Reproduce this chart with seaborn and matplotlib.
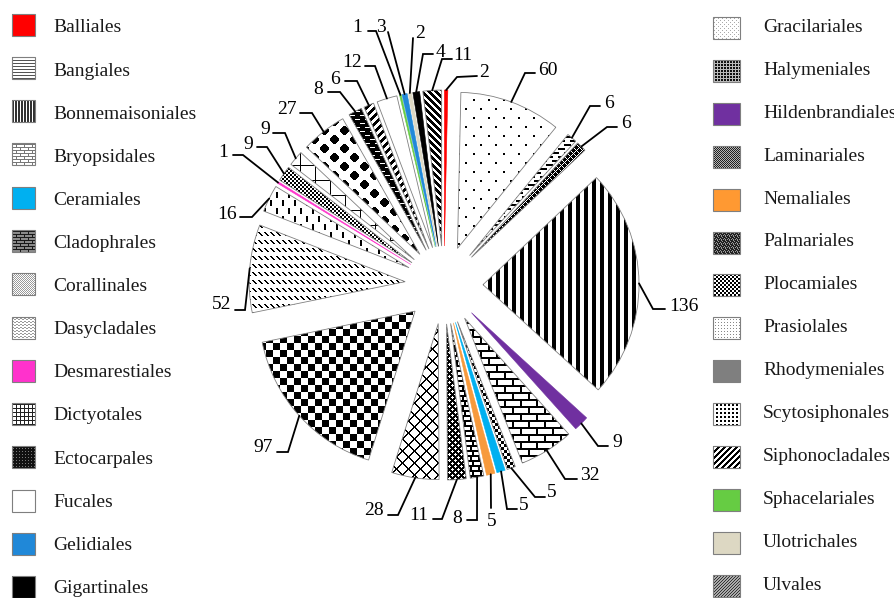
import numpy as np
import matplotlib
matplotlib.use("Agg")
import matplotlib.pyplot as plt
import seaborn as sns
from matplotlib.colors import to_rgb
from matplotlib.patches import Rectangle

sns.set_theme(style="white")
plt.rcParams["font.family"] = ["Liberation Serif", "DejaVu Serif"]

W, H = 895, 598

# ---------------- data ----------------
orders = ["Balliales", "Bangiales", "Bonnemaisoniales", "Bryopsidales", "Ceramiales",
          "Cladophrales", "Corallinales", "Dasycladales", "Desmarestiales", "Dictyotales",
          "Ectocarpales", "Fucales", "Gelidiales", "Gigartinales", "Gracilariales",
          "Halymeniales", "Hildenbrandiales", "Laminariales", "Nemaliales", "Palmariales",
          "Plocamiales", "Prasiolales", "Rhodymeniales", "Scytosiphonales", "Siphonocladales",
          "Sphacelariales", "Ulotrichales", "Ulvales"]
counts = [2, 60, 6, 6, 136, 9, 32, 5, 5, 5, 8, 11, 28, 97, 52, 16, 1, 9, 9, 27,
          8, 6, 12, 1, 3, 2, 4, 11]

# ---------------- label layout (pixels, origin top-left) ----------------
label_text_xy = [(484, 70), (548, 68), (609, 101), (626, 121), (684, 304), (617, 440),
                 (590, 473), (552, 490), (524, 503), (492, 519), (457, 516), (419, 513),
                 (374, 508), (263, 445), (222, 302), (227, 212), (223, 150), (248, 142),
                 (265, 127), (287, 107), (318, 87), (335, 77), (352, 60), (357, 25),
                 (381, 25), (420, 31), (441, 50), (463, 53)]
leader_elbow = [(457, 77), (525, 73), (590, 106), (607, 127), (653, 309), (598, 446),
                (565, 479), (535, 497), (507, 509), (491, 508), (477, 520), (442, 519),
                (398, 515), (288, 452), (245, 310), (252, 217), (243, 155), (267, 147),
                (285, 133), (312, 113), (340, 92), (357, 81), (375, 66), (376, 31),
                (388, 32), (413, 38), (423, 54), (442, 59)]
leader_end = [(477, 76), (535, 73), (600, 106), (617, 127), (665, 309), (608, 446),
              (577, 479), (545, 497), (517, 509), (491, 508), (467, 520), (433, 519),
              (388, 515), (277, 452), (235, 310), (240, 217), (233, 155), (257, 147),
              (273, 133), (300, 113), (328, 92), (345, 81), (365, 66), (368, 31),
              (388, 32), (413, 38), (433, 54), (452, 59)]


# ---------------- fill patterns ----------------
def tile(rows):
    return np.array([[1.0 if ch == "#" else 0.0 for ch in r] for r in rows])


def grid_tile(h, w, fn):
    i, j = np.mgrid[0:h, 0:w]
    return fn(i, j).astype(float)


def blob(i, j, ci, cj):
    di, dj = np.abs(i - ci), np.abs(j - cj)
    return ((di + dj) <= 5) & (di <= 4) & (dj <= 4)


DOTS_S = grid_tile(18, 15, lambda i, j: ((i < 2) & (j < 2)) |
                   ((i >= 9) & (i < 11) & (j >= 8) & (j < 10)))
HDASH = tile(["#######.....", "#######.....", "............", "............",
              "#.....######", "#.....######", "............", "............"])
LATTICE6 = grid_tile(6, 6, lambda i, j: ((i + j) % 6 == 0) | ((i - j) % 6 == 0))
VSTRIPE = tile(["####...."])
BRICK = grid_tile(14, 16, lambda i, j: (i % 7 < 2) | ((i < 7) & (j % 16 < 2)) |
                  ((i >= 7) & ((j - 8) % 16 < 2)))
SMALLCHECK = grid_tile(6, 6, lambda i, j: (i // 3 + j // 3) % 2 == 0)
INVBRICK = tile(["################", "################", "##......##......",
                 "##......##......", "##......##......", "################",
                 "################", "......##......##", "......##......##",
                 "......##......##"])
SPECKLE = tile(["##.###", "#...##", "##.###", "#####.", ".###..", "#####."])
LATTICE12 = grid_tile(12, 12, lambda i, j: ((i + j) % 12 < 2) | ((i - j) % 12 < 2))
CHECK7 = grid_tile(14, 14, lambda i, j: (i // 7 + j // 7) % 2 == 0)
DIAGDASH = tile(["##....", ".##...", "..##..", "...##.", "......", "......", "......",
                 "......"])
VDASH = grid_tile(16, 12, lambda i, j: ((j < 2) & (i < 6)) | ((j >= 6) & (j < 8) & (i >= 8) & (i < 14)))
FINECHECK = grid_tile(4, 4, lambda i, j: (i // 2 + j // 2) % 2 == 0)
GRID15 = grid_tile(15, 15, lambda i, j: (i == 0) | (j == 0))
POLKA = grid_tile(18, 20, lambda i, j: blob(i, j, 4, 4) | blob(i, j, 13, 14))
WDASH = tile(["##########", "##########", "##########", ".....#####",
              "##########", "##########", "##########", "#####....."])
DIAGW = grid_tile(8, 8, lambda i, j: (i + j) % 8 < 4)
DIAG11 = grid_tile(7, 7, lambda i, j: (j - i) % 7 < 4)

# style for each wedge: ("solid", colour) or (tile, ink colour, background)
wedge_styles = [
    ("solid", "#FF0000"), (DOTS_S, "black", "white"), (HDASH, "black", "white"),
    (LATTICE6, "white", "black"), (VSTRIPE, "black", "white"), ("solid", "#7030A0"),
    (BRICK, "black", "white"), (SMALLCHECK, "black", "white"), ("solid", "#00B0F0"),
    ("solid", "#F79A3C"), (INVBRICK, "black", "white"), (SPECKLE, "black", "white"),
    (LATTICE12, "black", "white"), (CHECK7, "black", "white"), (DIAGDASH, "black", "white"),
    (VDASH, "black", "white"), ("solid", "#FF33CC"), (FINECHECK, "black", "white"),
    (GRID15, "black", "white"), (POLKA, "black", "white"), (WDASH, "black", "white"),
    (DIAGW, "black", "white"), ("solid", "#FFFFFF"), ("solid", "#66CC44"),
    ("solid", "#2188D8"), ("solid", "#DDD8C3"), ("solid", "#000000"),
    (DIAG11, "black", "white"),
]

BRICK_S = tile(["########", "#.......", "#.......", "########", "....#...", "....#..."])

# legend swatch styles (same order as `orders`)
legend_styles = [
    ("solid", "#FF0000"),
    (tile(["#", ".", "."]), "#555555", "white"),
    (tile(["##."]), "#333333", "white"),
    (BRICK_S, "#777777", "white"),
    ("solid", "#00B0F0"),
    (BRICK_S, "#1a1a1a", "#8a8a8a"),
    (tile(["#.", ".#"]), "#9a9a9a", "white"),
    (tile(["##..", "..##", "...."]), "#9a9a9a", "white"),
    ("solid", "#FF33CC"),
    (tile(["####", "#...", "#...", "#..."]), "#222222", "white"),
    (tile(["###", "#.#", "###"]), "#111111", "#777777"),
    ("solid", "#FFFFFF"),
    ("solid", "#2188D8"),
    ("solid", "#000000"),
    (tile(["#...", "....", "..#.", "...."]), "#aaaaaa", "white"),
    (tile(["...", ".##", ".##"]), "#111111", "#bbbbbb"),
    ("solid", "#7030A0"),
    (tile(["#.", ".#"]), "#222222", "#b5b5b5"),
    ("solid", "#FF9933"),
    (tile(["#.##", "##.#", ".###", "#.#."]), "#222222", "#9a9a9a"),
    (tile(["##..", "##..", "..##", "..##"]), "black", "white"),
    (tile(["...", ".#.", "..."]), "#888888", "white"),
    ("solid", "#7F7F7F"),
    (tile(["##..", "##..", "....", "...."]), "black", "white"),
    (grid_tile(6, 6, lambda i, j: (i + j) % 6 < 3), "black", "white"),
    ("solid", "#66CC44"),
    ("solid", "#DDD8C3"),
    (grid_tile(3, 3, lambda i, j: (i + j) % 3 == 0), "#333333", "#aaaaaa"),
]


def is_solid(st):
    return isinstance(st[0], str)


def pattern_block(t, fg, bg, x0, x1, y0, y1):
    rows = np.arange(y0, y1)
    cols = np.arange(x0, x1)
    ink = t[rows[:, None] % t.shape[0], cols[None, :] % t.shape[1]]
    fgc = np.array(to_rgb(fg))
    bgc = np.array(to_rgb(bg))
    return bgc + (fgc - bgc) * ink[..., None]


# ---------------- figure ----------------
fig = plt.figure(figsize=(W / 100, H / 100), dpi=100)
ax = fig.add_axes([0, 0, 1, 1])

center = (444, H - 285)
radius = 156
explode = [39] * len(counts)
face = [st[1] if is_solid(st) else "white" for st in wedge_styles]

wedges, _ = ax.pie(counts, colors=face, startangle=90, counterclock=False,
                   radius=radius, center=center, explode=explode, frame=True,
                   wedgeprops=dict(linewidth=0.6, edgecolor="#808080"))

for w, st in zip(wedges, wedge_styles):
    if is_solid(st):
        if st[1].upper() != "#FFFFFF":
            w.set_edgecolor(st[1])
            w.set_linewidth(0.4)
        w.set_zorder(3)
        continue
    t, fg, bg = st
    cx, cy = w.center
    r = w.r
    x0 = max(0, int(np.floor(cx - r)) - 1)
    x1 = min(W, int(np.ceil(cx + r)) + 1)
    y0 = max(0, int(np.floor(H - (cy + r))) - 1)
    y1 = min(H, int(np.ceil(H - (cy - r))) + 1)
    img = pattern_block(t, fg, bg, x0, x1, y0, y1)
    im = ax.imshow(img, extent=(x0, x1, H - y1, H - y0), origin="upper",
                   interpolation="nearest", aspect="auto", zorder=2)
    im.set_clip_path(w)
    w.set_facecolor("none")
    w.set_zorder(3)

# leader lines and value labels
for w, n, txy, el, en in zip(wedges, counts, label_text_xy, leader_elbow, leader_end):
    tm = np.deg2rad(0.5 * (w.theta1 + w.theta2))
    ax_ = w.center[0] + w.r * np.cos(tm)
    ay_ = w.center[1] + w.r * np.sin(tm)
    ax.plot([ax_, el[0], en[0]], [ay_, H - el[1], H - en[1]], color="black",
            lw=1.3, solid_joinstyle="miter", zorder=5)
    ax.text(txy[0], H - txy[1] - 2.5, str(n), ha="center", va="center", fontsize=14,
            color="black", zorder=6)

# legend (two columns)
for k, (name, st) in enumerate(zip(orders, legend_styles)):
    if k < 14:
        sx0, sx1 = 12, 35
        yc = 24.5 + 43.3 * k
        ty = 25.5 + 43.1 * k
        tx = 53
    else:
        sx0, sx1 = 713, 740
        yc = 28 + 42.9 * (k - 14)
        ty = 25 + 42.9 * (k - 14)
        tx = 763
    sy0, sy1 = int(round(yc - 11)), int(round(yc + 11))
    if is_solid(st):
        img = pattern_block(np.ones((1, 1)), st[1], "white", sx0, sx1, sy0, sy1)
    else:
        img = pattern_block(st[0], st[1], st[2], sx0, sx1, sy0, sy1)
    ax.imshow(img, extent=(sx0, sx1, H - sy1, H - sy0), origin="upper",
              interpolation="nearest", aspect="auto", zorder=2)
    ax.add_patch(Rectangle((sx0, H - sy1), sx1 - sx0, sy1 - sy0, fill=False,
                           ec="#7f7f7f", lw=0.8, zorder=3))
    ax.text(tx, H - ty - 2.5, name, ha="left", va="center", fontsize=14,
            color="#1a1a1a", zorder=6)

ax.set_xlim(0, W)
ax.set_ylim(0, H)
ax.set_aspect("auto")
ax.axis("off")
fig.savefig("out.png", dpi=100)
